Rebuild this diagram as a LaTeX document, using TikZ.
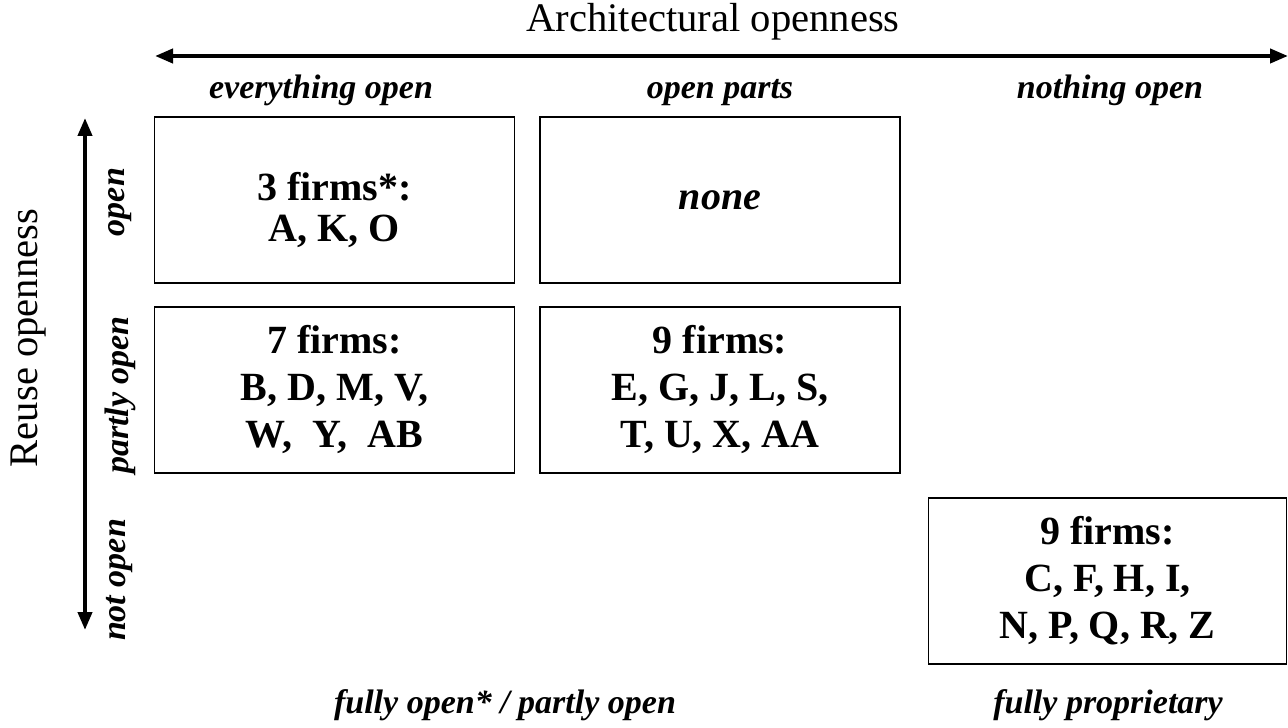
\documentclass[tikz,border=0pt]{standalone}
\usepackage{fontspec}
\setmainfont{Liberation Serif}
\usetikzlibrary{arrows.meta}

\begin{document}
\begin{tikzpicture}[x=0.5pt,y=-0.5pt]
    \tikzstyle{cell}=[draw, line width=0.9pt, minimum width=180pt, minimum height=83pt, align=center, font=\bfseries\fontsize{20}{23.5}\selectfont]
    \tikzstyle{head}=[anchor=base, font=\bfseries\itshape\fontsize{17}{19}\selectfont]
    \tikzstyle{side}=[rotate=90, font=\bfseries\itshape\fontsize{17}{19}\selectfont]
    \tikzstyle{title}=[font=\fontsize{20.3}{23}\selectfont]
    \tikzstyle{axis}=[{Triangle[length=9pt,width=7pt]}-{Triangle[length=9pt,width=7pt]}, line width=2pt]

    \useasboundingbox (0,0) rectangle (1288,727);

    % axes
    \coordinate (xl) at (155,56);
    \coordinate (xr) at (1288,56);
    \coordinate (yt) at (85,118);
    \coordinate (yb) at (85,630);
    \draw [axis] (xl) -- (xr);
    \draw [axis] (yt) -- (yb);

    \node[title] (xtitle) at (713,22) {Architectural openness};
    \node[title, rotate=90] (ytitle) at (29,338) {Reuse openness};

    % column and row heads
    \node[head] (c1) at (321,99) {everything open};
    \node[head] (c2) at (720,99) {open parts};
    \node[head] (c3) at (1110,99) {nothing open};
    \node[side] (r1) at (120,202) {open};
    \node[side] (r2) at (120,395) {partly open};
    \node[side] (r3) at (120,580) {not open};

    % cells
    \node[cell, font=\bfseries\fontsize{20}{20.5}\selectfont] (b1) at (334.5,200) {\rule{0pt}{24pt}3 firms*:\\A, K, O};
    \node[cell] (b2) at (720,200) {\itshape none};
    \node[cell] (b3) at (334.5,390) {7 firms:\\B, D, M, V,\\W,\ \ Y,\ \ AB};
    \node[cell] (b4) at (720,390) {9 firms:\\E, G, J, L, S,\\T, U, X, AA};
    \node[cell, minimum width=179pt] (b5) at (1107.5,581) {9 firms:\\C, F, H, I,\\N, P, Q, R, Z};

    % bottom
    \node[head] (f1) at (505,713) {fully open* / partly open};
    \node[head] (f2) at (1108,713) {fully proprietary};
\end{tikzpicture}
\end{document}
